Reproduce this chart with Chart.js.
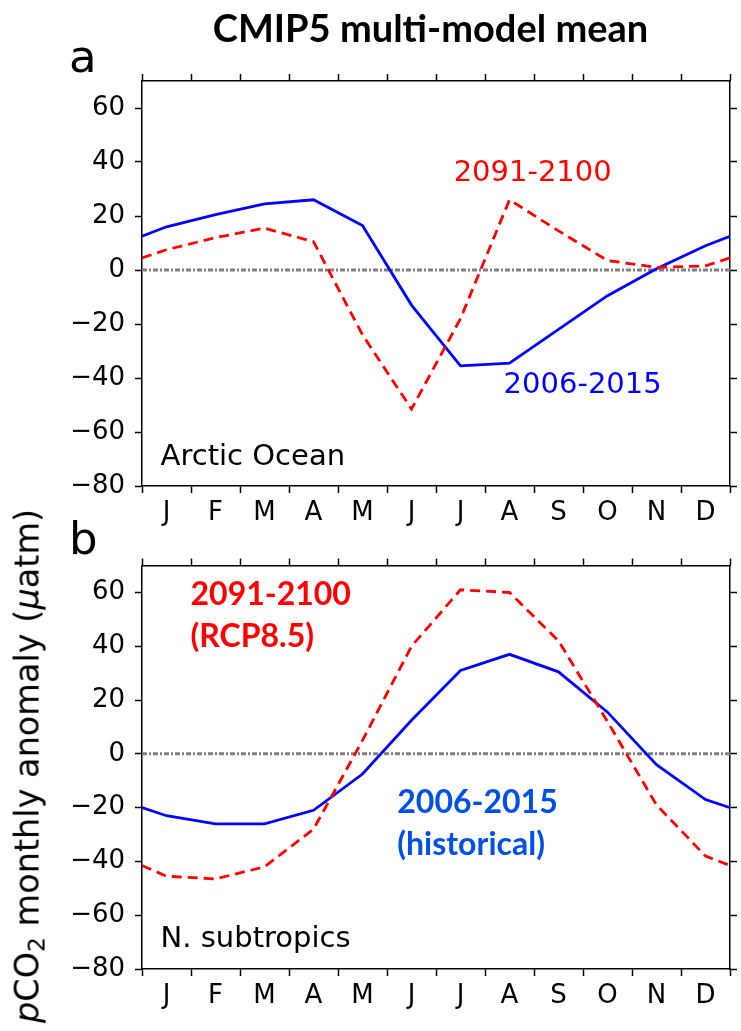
<!DOCTYPE html>
<html>
<head>
<meta charset="utf-8">
<script src="https://cdn.jsdelivr.net/npm/chart.js@4/dist/chart.umd.min.js"></script>
<style>
  body { margin: 0; background: #fff; }
  #wrap { position: relative; width: 741px; height: 1031px; overflow: hidden; }
  canvas { position: absolute; left: 0; }
  .title { position: absolute; left: 0; width: 741px; top: 4px; text-align: center;
           font: bold 38px Lato, sans-serif; color: #000; padding-left: 120px; box-sizing: border-box; }
  .letter { position: absolute; font: 45px "DejaVu Sans", sans-serif; color: #000; line-height: 1; }
  .ylab { position: absolute; left: 29px; top: 766px; white-space: nowrap;
          font: 33.5px "DejaVu Sans", sans-serif; color: #000;
          transform: translate(-50%, -50%) rotate(-90deg); }
  .ylab i { font-style: oblique; }
  .ylab sub { font-size: 0.7em; vertical-align: -0.25em; }
</style>
</head>
<body>
<div id="wrap">
  <canvas id="chartA" width="741" height="500" style="top:40px"></canvas>
  <canvas id="chartB" width="741" height="491" style="top:540px"></canvas>
  <div class="title">CMIP5 multi-model mean</div>
  <div class="letter" style="left:69px; top:34px">a</div>
  <div class="letter" style="left:69px; top:516px">b</div>
  <div class="ylab"><i>p</i>CO<sub>2</sub> monthly anomaly (<i>μ</i>atm)</div>
</div>
<script>
// month labels, values read at mid-month; edge value = where the line meets the frame
var months = ["J", "F", "M", "A", "M", "J", "J", "A", "S", "O", "N", "D"];

var arcticHist = [16, 20.5, 24.5, 26, 16.5, -13, -35.5, -34.5, -22, -9.5, 0.5, 9];
var arcticHistEdge = 12.5;
var arcticFut = [7.5, 12, 15.5, 10.5, -24, -51.5, -18, 26, 14.5, 3.5, 1, 1.5];
var arcticFutEdge = 4.5;

var subtropHist = [-23, -26, -26, -21, -7.5, 12.5, 31, 37, 30.5, 15.5, -4, -17];
var subtropHistEdge = -20;
var subtropFut = [-45.5, -46.5, -42, -28, 5, 40, 61, 60, 42, 12, -19, -38];
var subtropFutEdge = -41.5;

var yTicks = [-80, -60, -40, -20, 0, 20, 40, 60];

var RED = "#ff0000";
var BLUE = "#0000ff";
var BLUE_TEXT = "#0050e6";

function toPoints(vals, edge) {
  var pts = [{ x: 0, y: edge }];
  vals.forEach(function (v, i) { pts.push({ x: i + 0.5, y: v }); });
  pts.push({ x: 12, y: edge });
  return pts;
}

function minusSign(v) {
  return v < 0 ? "\u2212" + Math.abs(v) : "" + v;
}

// zero line + text labels placed in data coordinates
var annotate = {
  id: "annotate",
  beforeDatasetsDraw: function (chart) {
    var ctx = chart.ctx, a = chart.chartArea;
    var y0 = chart.scales.y.getPixelForValue(0);
    ctx.save();
    ctx.strokeStyle = "#7f7f7f";
    ctx.lineWidth = 3;
    ctx.setLineDash([5, 2, 2, 2]);
    ctx.beginPath();
    ctx.moveTo(a.left, y0);
    ctx.lineTo(a.right, y0);
    ctx.stroke();
    ctx.restore();
  },
  afterDatasetsDraw: function (chart, args, opts) {
    var ctx = chart.ctx;
    ctx.save();
    ctx.textAlign = "left";
    ctx.textBaseline = "middle";
    (opts.items || []).forEach(function (it) {
      ctx.font = it.font;
      ctx.fillStyle = it.color;
      ctx.fillText(it.text, chart.scales.x.getPixelForValue(it.x), chart.scales.y.getPixelForValue(it.y));
    });
    ctx.restore();
  },
};

function panel(id, hist, histEdge, fut, futEdge, topH, bottomH, items) {
  var tickFont = { family: "DejaVu Sans", size: 26 };
  var frame = { display: true, color: "#000", width: 1.5 };
  return new Chart(document.getElementById(id).getContext("2d"), {
    type: "line",
    data: {
      datasets: [
        {
          data: toPoints(fut, futEdge),
          borderColor: RED,
          borderWidth: 2.8,
          borderDash: [10, 6],
          pointRadius: 0,
          tension: 0,
        },
        {
          data: toPoints(hist, histEdge),
          borderColor: BLUE,
          borderWidth: 2.8,
          pointRadius: 0,
          tension: 0,
        },
      ],
    },
    options: {
      responsive: false,
      animation: false,
      events: [],
      plugins: {
        legend: { display: false },
        tooltip: { enabled: false },
        annotate: { items: items },
      },
      scales: {
        x: {
          type: "linear",
          position: "bottom",
          min: 0,
          max: 12,
          border: frame,
          grid: {
            drawOnChartArea: false,
            tickLength: 7,
            tickWidth: 1.5,
            tickColor: function (c) {
              return c.tick && Number.isInteger(c.tick.value) ? "#000" : "rgba(0,0,0,0)";
            },
          },
          ticks: {
            stepSize: 0.5,
            autoSkip: false,
            maxRotation: 0,
            padding: 5,
            color: "#000",
            font: tickFont,
            callback: function (v) {
              return Number.isInteger(v) ? "" : months[Math.floor(v)];
            },
          },
          afterFit: function (s) { s.height = bottomH; },
        },
        x2: {
          type: "linear",
          position: "top",
          min: 0,
          max: 12,
          border: frame,
          grid: { drawOnChartArea: false, tickLength: 7, tickWidth: 1.5, tickColor: "#000" },
          ticks: { stepSize: 1, display: false },
          afterFit: function (s) { s.height = topH; },
        },
        y: {
          min: -80,
          max: 70,
          border: frame,
          grid: { drawOnChartArea: false, tickLength: 7, tickWidth: 1.5, tickColor: "#000" },
          ticks: {
            stepSize: 20,
            includeBounds: false,
            padding: 10,
            color: "#000",
            font: tickFont,
            callback: function (v) { return yTicks.indexOf(v) >= 0 ? minusSign(v) : ""; },
          },
          afterFit: function (s) { s.width = 142; },
        },
        y2: {
          position: "right",
          min: -80,
          max: 70,
          border: frame,
          grid: { drawOnChartArea: false, tickLength: 7, tickWidth: 1.5, tickColor: "#000" },
          ticks: { stepSize: 20, includeBounds: false, display: false },
          afterFit: function (s) { s.width = 11; },
        },
      },
    },
    plugins: [annotate],
  });
}

var plainFont = '29px "DejaVu Sans"';
var boldFont = 'bold 32px Lato';

panel("chartA", arcticHist, arcticHistEdge, arcticFut, arcticFutEdge, 41, 54, [
  { text: "2091-2100", x: 6.36, y: 35.7, color: RED, font: plainFont },
  { text: "2006-2015", x: 7.38, y: -42.6, color: BLUE, font: plainFont },
  { text: "Arctic Ocean", x: 0.38, y: -69.6, color: "#000", font: plainFont },
]);

panel("chartB", subtropHist, subtropHistEdge, subtropFut, subtropFutEdge, 25, 62, [
  { text: "2091-2100", x: 0.99, y: 59, color: RED, font: boldFont },
  { text: "(RCP8.5)", x: 0.99, y: 43.4, color: RED, font: boldFont },
  { text: "2006-2015", x: 5.21, y: -18.2, color: BLUE_TEXT, font: boldFont },
  { text: "(historical)", x: 5.21, y: -33.8, color: BLUE_TEXT, font: boldFont },
  { text: "N. subtropics", x: 0.38, y: -69, color: "#000", font: plainFont },
]);
</script>
</body>
</html>
